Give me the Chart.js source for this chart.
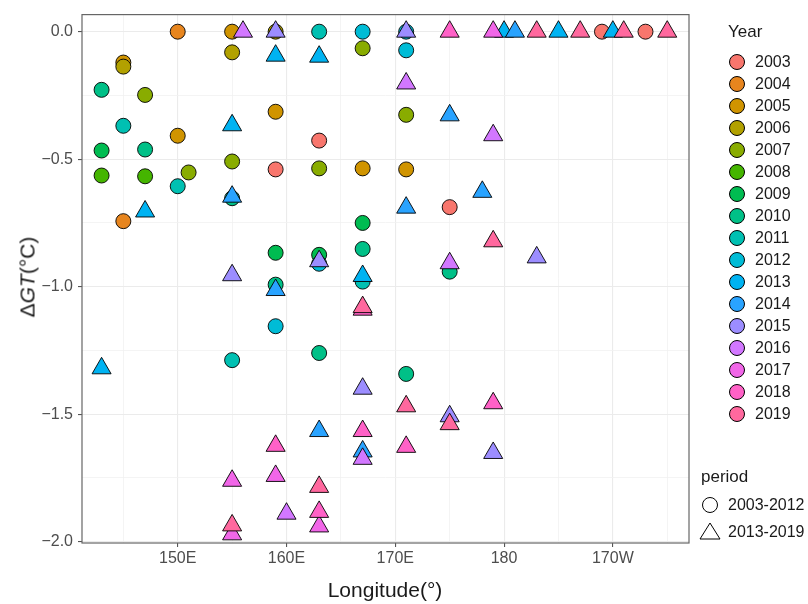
<!DOCTYPE html>
<html>
<head>
    <title>Longitude vs Delta GT by year</title>
    <style type="text/css">
        body {
            margin: 0;
            background: #ffffff;
        }

        #chart-container {
            position: relative;
            width: 808px;
            height: 604px;
            font-family: "Liberation Sans", Arial, sans-serif;
            color: #1a1a1a;
        }

        #graphCanvas {
            position: absolute;
            left: 0;
            top: 0;
        }

        .lbl {
            position: absolute;
            white-space: nowrap;
            line-height: 1;
            transform: translateY(-50%);
        }

        #xtitle {
            position: absolute;
            left: 385px;
            top: 589px;
            font-size: 21px;
            line-height: 1;
            white-space: nowrap;
            transform: translate(-50%, -50%);
        }

        #ytitle {
            position: absolute;
            left: 27px;
            top: 277px;
            font-size: 21px;
            line-height: 1;
            white-space: nowrap;
            transform: translate(-50%, -50%) rotate(-90deg);
        }

        .key {
            position: absolute;
            width: 14px;
            height: 14px;
            border: 1px solid #000;
            border-radius: 50%;
            transform: translate(-50%, -50%);
        }
    </style>
    <script type="text/javascript" src="https://cdn.jsdelivr.net/npm/chart.js@4.4.1/dist/chart.umd.min.js"></script>
</head>
<body>

<div id="chart-container">
    <canvas id="graphCanvas" width="808" height="604"></canvas>
    <div id="ytitle">&Delta;<i>GT</i>(&deg;C)</div>
    <div id="xtitle">Longitude(&deg;)</div>
    <div id="legend"></div>
</div>

<script>
    // years (categories); 2003-2012 drawn as circles, 2013-2019 as triangles
    var YEARS = [2003, 2004, 2005, 2006, 2007, 2008, 2009, 2010, 2011, 2012,
        2013, 2014, 2015, 2016, 2017, 2018, 2019];
    var FIRST_TRIANGLE_YEAR = 2013;
    var PERIODS = ['2003-2012', '2013-2019'];

    // longitude (0-360) of each point, one row per year
    var LON = [
        [159, 163, 175, 189, 193],
        [150, 145],
        [155, 145, 159, 150, 167, 171],
        [145, 155, 159],
        [147, 155, 151, 163, 167, 171],
        [143, 147],
        [143, 159, 163, 167],
        [143, 147, 155, 159, 163, 167, 171, 175],
        [145, 150, 155, 163, 167],
        [159, 163, 167, 171, 171],
        [155, 159, 163, 147, 143, 167, 180, 185, 190],
        [155, 159, 171, 175, 178, 163, 167, 181],
        [159, 171, 155, 163, 183, 167, 175, 179],
        [156, 171, 179, 175, 167, 160],
        [179, 155, 159, 163, 155],
        [175, 167, 159, 163, 167, 171, 179],
        [183, 187, 191, 195, 179, 167, 171, 175, 163, 155]
    ];

    // delta GT (deg C) of each point, same layout as LON
    var DGT = [
        [-0.54, -0.427, -0.688, 0, 0],
        [0, -0.743],
        [0, -0.121, -0.314, -0.408, -0.536, -0.54],
        [-0.137, -0.081, 0],
        [-0.248, -0.509, -0.552, -0.536, -0.065, -0.326],
        [-0.564, -0.567],
        [-0.466, -0.867, -0.875, -0.75],
        [-0.228, -0.462, -0.653, -0.992, -1.26, -0.852, -1.342, -0.941],
        [-0.369, -0.606, -1.288, 0, -0.98],
        [-1.155, -0.91, 0, -0.073, 0],
        [-0.367, -0.094, -0.098, -0.705, -1.32, -0.958, 0, 0, 0],
        [-0.647, -1.013, -0.69, -0.328, -0.628, -1.566, -1.646, 0],
        [0, 0, -0.955, -0.9, -0.885, -1.4, -1.508, -1.652],
        [0, -0.203, -0.406, -0.908, -1.675, -1.89],
        [0, -1.761, -1.742, -1.94, -1.971],
        [0, -1.09, -1.624, -1.883, -1.566, -1.628, -1.457],
        [0, 0, 0, 0, -0.822, -1.08, -1.469, -1.539, -1.785, -1.936]
    ];

    // axis ticks
    var X_GRID = [145, 150, 155, 160, 165, 170, 175, 180, 185, 190, 195];
    var X_TICKS = [150, 160, 170, 180, 190];
    var X_TICK_LABELS = ['150E', '160E', '170E', '180', '170W'];
    var Y_GRID = [-2, -1.75, -1.5, -1.25, -1, -0.75, -0.5, -0.25, 0];
    var Y_TICKS = [-2, -1.5, -1, -0.5, 0];
    var Y_TICK_LABELS = ['\u22122.0', '\u22121.5', '\u22121.0', '\u22120.5', '0.0'];

    var FONT = '"Liberation Sans", Arial, sans-serif';

    // ggplot-like hue palette: hcl(h, c = 100, l = 65)
    function hcl(h, c, l) {
        var hr = h * Math.PI / 180;
        var u = c * Math.cos(hr), v = c * Math.sin(hr);
        var Y = l > 8 ? Math.pow((l + 16) / 116, 3) : l / 903.3;
        var Xn = 0.95047, Yn = 1, Zn = 1.08883;
        var d = Xn + 15 * Yn + 3 * Zn;
        var up = u / (13 * l) + 4 * Xn / d;
        var vp = v / (13 * l) + 9 * Yn / d;
        var X = Y * 9 * up / (4 * vp);
        var Z = Y * (12 - 3 * up - 20 * vp) / (4 * vp);
        var rgb = [
            3.2404542 * X - 1.5371385 * Y - 0.4985314 * Z,
            -0.9692660 * X + 1.8760108 * Y + 0.0415560 * Z,
            0.0556434 * X - 0.2040259 * Y + 1.0572252 * Z
        ].map(function (t) {
            t = t <= 0.0031308 ? 12.92 * t : 1.055 * Math.pow(t, 1 / 2.4) - 0.055;
            return Math.round(255 * Math.min(1, Math.max(0, t)));
        });
        return 'rgb(' + rgb.join(',') + ')';
    }

    var COLORS = YEARS.map(function (y, i) {
        return hcl(15 + i * 360 / YEARS.length, 100, 65);
    });

    function isMajorX(v) { return X_TICKS.indexOf(v) >= 0; }
    function isMajorY(v) { return Y_TICKS.indexOf(v) >= 0; }

    var datasets = YEARS.map(function (year, i) {
        var tri = year >= FIRST_TRIANGLE_YEAR;
        return {
            label: String(year),
            data: LON[i].map(function (lon, j) {
                return {x: lon, y: DGT[i][j]};
            }),
            pointStyle: tri ? 'triangle' : 'circle',
            pointRadius: tri ? 11 : 7.5,
            pointHoverRadius: tri ? 11 : 7.5,
            backgroundColor: COLORS[i],
            borderColor: '#000000',
            borderWidth: 0.9,
            order: YEARS.length - i
        };
    });

    var panelBorder = {
        id: 'panelBorder',
        afterDatasetsDraw: function (chart) {
            var a = chart.chartArea, ctx = chart.ctx;
            ctx.save();
            ctx.strokeStyle = '#666666';
            ctx.lineWidth = 1.2;
            ctx.strokeRect(a.left, a.top, a.right - a.left, a.bottom - a.top);
            ctx.restore();
        }
    };

    new Chart(document.getElementById('graphCanvas'), {
        type: 'scatter',
        data: {datasets: datasets},
        plugins: [panelBorder],
        options: {
            responsive: false,
            animation: false,
            devicePixelRatio: 1,
            layout: {padding: {left: 0, right: 119, top: 11, bottom: 0}},
            plugins: {
                legend: {display: false},
                tooltip: {enabled: false}
            },
            scales: {
                x: {
                    type: 'linear',
                    min: 141.2,
                    max: 197,
                    afterBuildTicks: function (axis) {
                        axis.ticks = X_GRID.map(function (v) { return {value: v}; });
                    },
                    afterFit: function (axis) { axis.height = 61; },
                    border: {display: false},
                    grid: {
                        color: function (c) { return isMajorX(c.tick.value) ? '#EBEBEB' : '#F1F1F1'; },
                        lineWidth: function (c) { return isMajorX(c.tick.value) ? 1.1 : 0.8; },
                        tickColor: function (c) { return isMajorX(c.tick.value) ? '#555555' : 'rgba(0,0,0,0)'; },
                        tickLength: 4
                    },
                    ticks: {
                        autoSkip: false,
                        maxRotation: 0,
                        padding: 2,
                        color: '#4D4D4D',
                        font: {family: FONT, size: 16},
                        callback: function (v) {
                            var k = X_TICKS.indexOf(v);
                            return k >= 0 ? X_TICK_LABELS[k] : '';
                        }
                    }
                },
                y: {
                    type: 'linear',
                    min: -2.005,
                    max: 0.067,
                    afterBuildTicks: function (axis) {
                        axis.ticks = Y_GRID.map(function (v) { return {value: v}; });
                    },
                    afterFit: function (axis) { axis.width = 82; },
                    border: {display: false},
                    grid: {
                        color: function (c) { return isMajorY(c.tick.value) ? '#EBEBEB' : '#F1F1F1'; },
                        lineWidth: function (c) { return isMajorY(c.tick.value) ? 1.1 : 0.8; },
                        tickColor: function (c) { return isMajorY(c.tick.value) ? '#555555' : 'rgba(0,0,0,0)'; },
                        tickLength: 4
                    },
                    ticks: {
                        autoSkip: false,
                        padding: 5,
                        color: '#4D4D4D',
                        font: {family: FONT, size: 16},
                        callback: function (v) {
                            var k = Y_TICKS.indexOf(v);
                            return k >= 0 ? Y_TICK_LABELS[k] : '';
                        }
                    }
                }
            }
        }
    });

    // legends (ggplot style, to the right of the panel)
    function buildLegend() {
        var html = '';
        html += '<div class="lbl" style="left:728px;top:31px;font-size:17px">Year</div>';
        YEARS.forEach(function (year, i) {
            var cy = 61.7 + i * 22.04;
            html += '<div class="key" style="left:737px;top:' + cy + 'px;background:' + COLORS[i] + '"></div>';
            html += '<div class="lbl" style="left:755px;top:' + cy + 'px;font-size:16px">' + year + '</div>';
        });
        html += '<div class="lbl" style="left:701px;top:476px;font-size:17px">period</div>';
        html += '<div class="key" style="left:710px;top:505px;background:transparent"></div>';
        html += '<div class="lbl" style="left:728px;top:505px;font-size:16px">' + PERIODS[0] + '</div>';
        html += '<svg style="position:absolute;left:699px;top:522px" width="22" height="18">' +
            '<polygon points="11,1 21,17 1,17" fill="none" stroke="#000" stroke-width="1"/></svg>';
        html += '<div class="lbl" style="left:728px;top:532px;font-size:16px">' + PERIODS[1] + '</div>';
        document.getElementById('legend').innerHTML = html;
    }

    buildLegend();
</script>

</body>
</html>
